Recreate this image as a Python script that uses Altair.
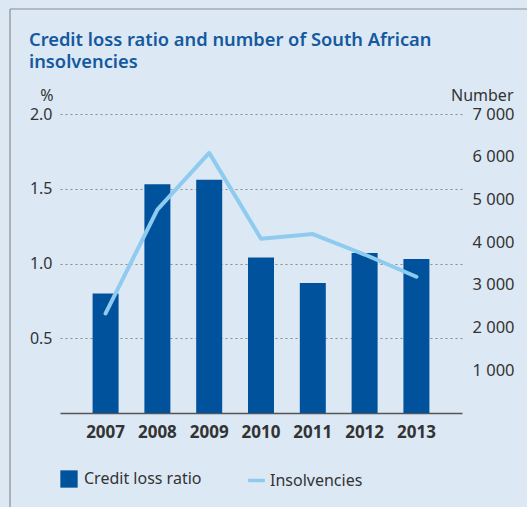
import altair as alt
import pandas as pd

years = ["2007", "2008", "2009", "2010", "2011", "2012", "2013"]
credit_loss_ratio = [0.80, 1.53, 1.56, 1.04, 0.87, 1.07, 1.03]
insolvencies = [2330, 4760, 6090, 4080, 4190, 3710, 3190]
left_ticks = [0.5, 1.0, 1.5, 2.0]
right_ticks = [1000, 2000, 3000, 4000, 5000, 6000, 7000]

df = pd.DataFrame({
    "year": years,
    "ratio": credit_loss_ratio,
    "insolv": insolvencies,
    "s1": ["Credit loss ratio"] * len(years),
    "s2": ["Insolvencies"] * len(years),
})

FONT = "Noto Sans"
TXT = "#333333"
BAR = "#00529c"
LINE = "#8ecbef"
BG = "#dce9f5"

xenc = alt.X("year:N", sort=years,
             scale=alt.Scale(paddingInner=0.5, paddingOuter=0.63),
             axis=alt.Axis(title=None, labelAngle=0, labelFont=FONT, labelFontSize=17,
                           labelFontWeight="bold", labelColor=TXT, labelPadding=11,
                           ticks=False, domainColor="#555555", domainWidth=1.5))

bars = alt.Chart(df).mark_bar(size=26).encode(
    x=xenc,
    y=alt.Y("ratio:Q", scale=alt.Scale(domain=[0, 2], nice=False),
            axis=alt.Axis(title="%", titleAngle=0, titleX=-7, titleY=-14, titleAlign="right",
                          titleBaseline="alphabetic", titleFont=FONT, titleFontSize=16,
                          titleFontWeight="normal", titleColor=TXT,
                          values=left_ticks, format=".1f", labelFont=FONT, labelFontSize=16,
                          labelColor=TXT, labelPadding=8, ticks=False, domain=False,
                          grid=True, gridDash=[2, 3], gridColor="#8a8a8a", gridWidth=1)),
    color=alt.Color("s1:N", scale=alt.Scale(range=[BAR]),
                    legend=alt.Legend(title=None, orient="none", legendX=0, legendY=356,
                                      symbolType="square", symbolSize=300, symbolStrokeWidth=0,
                                      labelFont=FONT, labelFontSize=16, labelColor=TXT,
                                      labelOffset=6, padding=0)),
)

line = alt.Chart(df).mark_line(strokeWidth=4, strokeCap="round", strokeJoin="round").encode(
    x=alt.X("year:N", sort=years),
    y=alt.Y("insolv:Q", scale=alt.Scale(domain=[0, 7000], nice=False),
            axis=alt.Axis(orient="right", title="Number", titleAngle=0, titleX=51, titleY=-14,
                          titleAlign="right", titleBaseline="alphabetic", titleFont=FONT,
                          titleFontSize=16, titleFontWeight="normal", titleColor=TXT,
                          values=right_ticks, format=",d", labelExpr="replace(datum.label, ',', ' ')",
                          labelFont=FONT, labelFontSize=16.5, labelColor=TXT, labelPadding=10,
                          ticks=False, domain=False, grid=False)),
    stroke=alt.Stroke("s2:N", scale=alt.Scale(range=[LINE]),
                      legend=alt.Legend(title=None, orient="none", legendX=186, legendY=356,
                                        symbolType="stroke", symbolSize=280, symbolStrokeWidth=3.5,
                                        labelFont=FONT, labelFontSize=16, labelColor=TXT,
                                        labelOffset=3, padding=0)),
)

frame_data = alt.Data(values=[{}])
left_border = alt.Chart(frame_data).mark_rule(color="#8c8c8c", strokeWidth=1.2).encode(
    x=alt.value(-50), y=alt.value(-105), y2=alt.value(420))
top_border = alt.Chart(frame_data).mark_rule(color="#8c8c8c", strokeWidth=1.2).encode(
    x=alt.value(-50), x2=alt.value(500), y=alt.value(-105))

chart = alt.layer(left_border, top_border, bars, line).resolve_scale(
    y="independent", color="independent", stroke="independent"
).properties(
    width=402, height=299,
    autosize=alt.AutoSizeParams(type="none"),
    padding={"left": 60, "top": 114, "right": 65, "bottom": 94},
    background=BG,
    title=alt.TitleParams(
        text=["Credit loss ratio and number of South African", "insolvencies"],
        anchor="start", frame="group", dx=-31, dy=68, font=FONT, fontSize=18.3,
        fontWeight=600, color="#15599f", lineHeight=22, offset=4,
    ),
).configure_view(stroke=None)

chart.save("out.html", embed_options={"renderer": "svg", "actions": False})
